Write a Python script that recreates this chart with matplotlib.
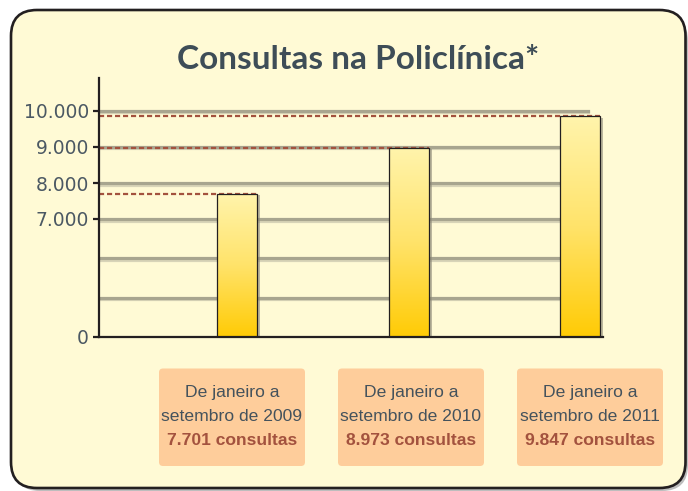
import numpy as np
import matplotlib
matplotlib.use("Agg")
import matplotlib.pyplot as plt
import matplotlib.patheffects as pe
from matplotlib.patches import FancyBboxPatch
from matplotlib.transforms import IdentityTransform

# Data
consultas = [7701, 8973, 9847]
period_lines = [("De janeiro a", "setembro de 2009"),
                ("De janeiro a", "setembro de 2010"),
                ("De janeiro a", "setembro de 2011")]
count_labels = ["7.701 consultas", "8.973 consultas", "9.847 consultas"]
tick_values = [0, 7000, 8000, 9000, 10000]
tick_labels = ["0", "7.000", "8.000", "9.000", "10.000"]
blank_grid = [7000 / 3, 14000 / 3]   # unlabeled lines in the squeezed part

# broken axis: 0-7000 squeezed into the bottom, then 1000 per step
scale_vals = [0, 7000, 8000, 9000, 10000, 12000]
scale_pos = [0, 118, 153.7, 190.3, 226.3, 298.3]

def fwd(v):
    return np.interp(v, scale_vals, scale_pos)

def inv(p):
    return np.interp(p, scale_pos, scale_vals)

W, H = 688, 491
cream = "#FFFAD5"
border = "#231F20"
slate = "#44525C"
brown = "#A3523E"
grid_c = "#A8A58F"
peach = "#FECD9B"

fig = plt.figure(figsize=(W / 100, H / 100), dpi=100)
fig.patch.set_facecolor("white")

# rounded background panel with a soft shadow
shadow = FancyBboxPatch((14, 0), 674, 476, boxstyle="round,pad=0,rounding_size=26",
                        transform=IdentityTransform(), fc="#BDBDBD", ec="none", zorder=-3)
panel = FancyBboxPatch((11, 3), 674.5, 478, boxstyle="round,pad=0,rounding_size=26",
                       transform=IdentityTransform(), fc=cream, ec=border, lw=1.9, zorder=-2)
fig.add_artist(shadow)
fig.add_artist(panel)

fig.text(358 / W, 1 - 69 / H, "Consultas na Policlínica*", ha="center", va="baseline",
         fontsize=24, fontweight="bold", color="#3E4D57", family="Lato")

ax = fig.add_axes([99.3 / W, (H - 337) / H, (603 - 99.3) / W, (337 - 78) / H])
ax.set_facecolor("none")
ax.set_yscale("function", functions=(fwd, inv))

step = 171.5
xl = -138 / step
ax.set_xlim(xl, xl + (603 - 99.3) / step)
ax.set_ylim(0, inv(259))

x = np.arange(len(consultas))
bw = 40 / step

# grid
for g in tick_values[1:] + blank_grid:
    ax.axhline(g, xmin=0, xmax=(588 - 99.3) / (603 - 99.3), color=grid_c, lw=2.3, zorder=1,
               path_effects=[pe.SimpleLineShadow(offset=(0, -1.2), shadow_color="#D8D4B8", alpha=1),
                             pe.Normal()])

# dashed reference lines up to each bar
for xi, v in zip(x, consultas):
    ax.hlines(v, xl, xi + bw / 2, color=brown, lw=1.6, linestyles=(0, (2.3, 1.3)), zorder=3)

# bar shadows (shadow only)
ax.bar(x, consultas, width=bw, facecolor="none", edgecolor="none", zorder=3.2,
       path_effects=[pe.SimplePatchShadow(offset=(2, -1), shadow_rgbFace="#8E8A78", alpha=0.6)])

# bars with vertical gradient
grad = np.linspace(0, 1, 256).reshape(-1, 1)
cmap = matplotlib.colors.LinearSegmentedColormap.from_list("gold", ["#FFCB05", "#FFE36A", "#FFF4AC"])
bars = ax.bar(x, consultas, width=bw, facecolor="none", edgecolor=border, lw=0.9, zorder=4)
to_axes = ax.transAxes.inverted()
for b, xi, v in zip(bars, x, consultas):
    x0, y0 = to_axes.transform(ax.transData.transform((xi - bw / 2, 0)))
    x1, y1 = to_axes.transform(ax.transData.transform((xi + bw / 2, v)))
    im = ax.imshow(grad, extent=[x0, x1, y0, y1], transform=ax.transAxes, cmap=cmap,
                   origin="lower", aspect="auto", zorder=3.5)
    im.set_clip_path(b)

for s in ["top", "right"]:
    ax.spines[s].set_visible(False)
for s in ["left", "bottom"]:
    ax.spines[s].set_color(border)
    ax.spines[s].set_linewidth(1.6)
    ax.spines[s].set_zorder(5)
ax.set_xticks([])
ax.set_yticks(tick_values, tick_labels)
ax.yaxis.set_minor_locator(matplotlib.ticker.NullLocator())
ax.tick_params(axis="y", length=4, width=1.6, color=border, pad=3.5,
               labelsize=13.5, labelcolor="#4B5863")
for lab in ax.get_yticklabels():
    lab.set_family("DejaVu Sans")

# label boxes under the bars
box_cx = [232, 411, 590]
for cx, lines, cnt in zip(box_cx, period_lines, count_labels):
    fig.add_artist(FancyBboxPatch((cx - 73, H - 466), 146, 97.5,
                                  boxstyle="round,pad=0,rounding_size=4",
                                  transform=IdentityTransform(), fc=peach, ec="none", zorder=2))
    for ty, txt in zip([393, 416.7], lines):
        fig.text(cx / W, 1 - ty / H, txt, ha="center", va="center", fontsize=12.6,
                 color=slate, family="Liberation Sans", zorder=3)
    fig.text(cx / W, 1 - 440.7 / H, cnt, ha="center", va="center", fontsize=12.6,
             fontweight="bold", color=brown, family="Liberation Sans", zorder=3)

fig.savefig("out.png", dpi=100, facecolor="white")
